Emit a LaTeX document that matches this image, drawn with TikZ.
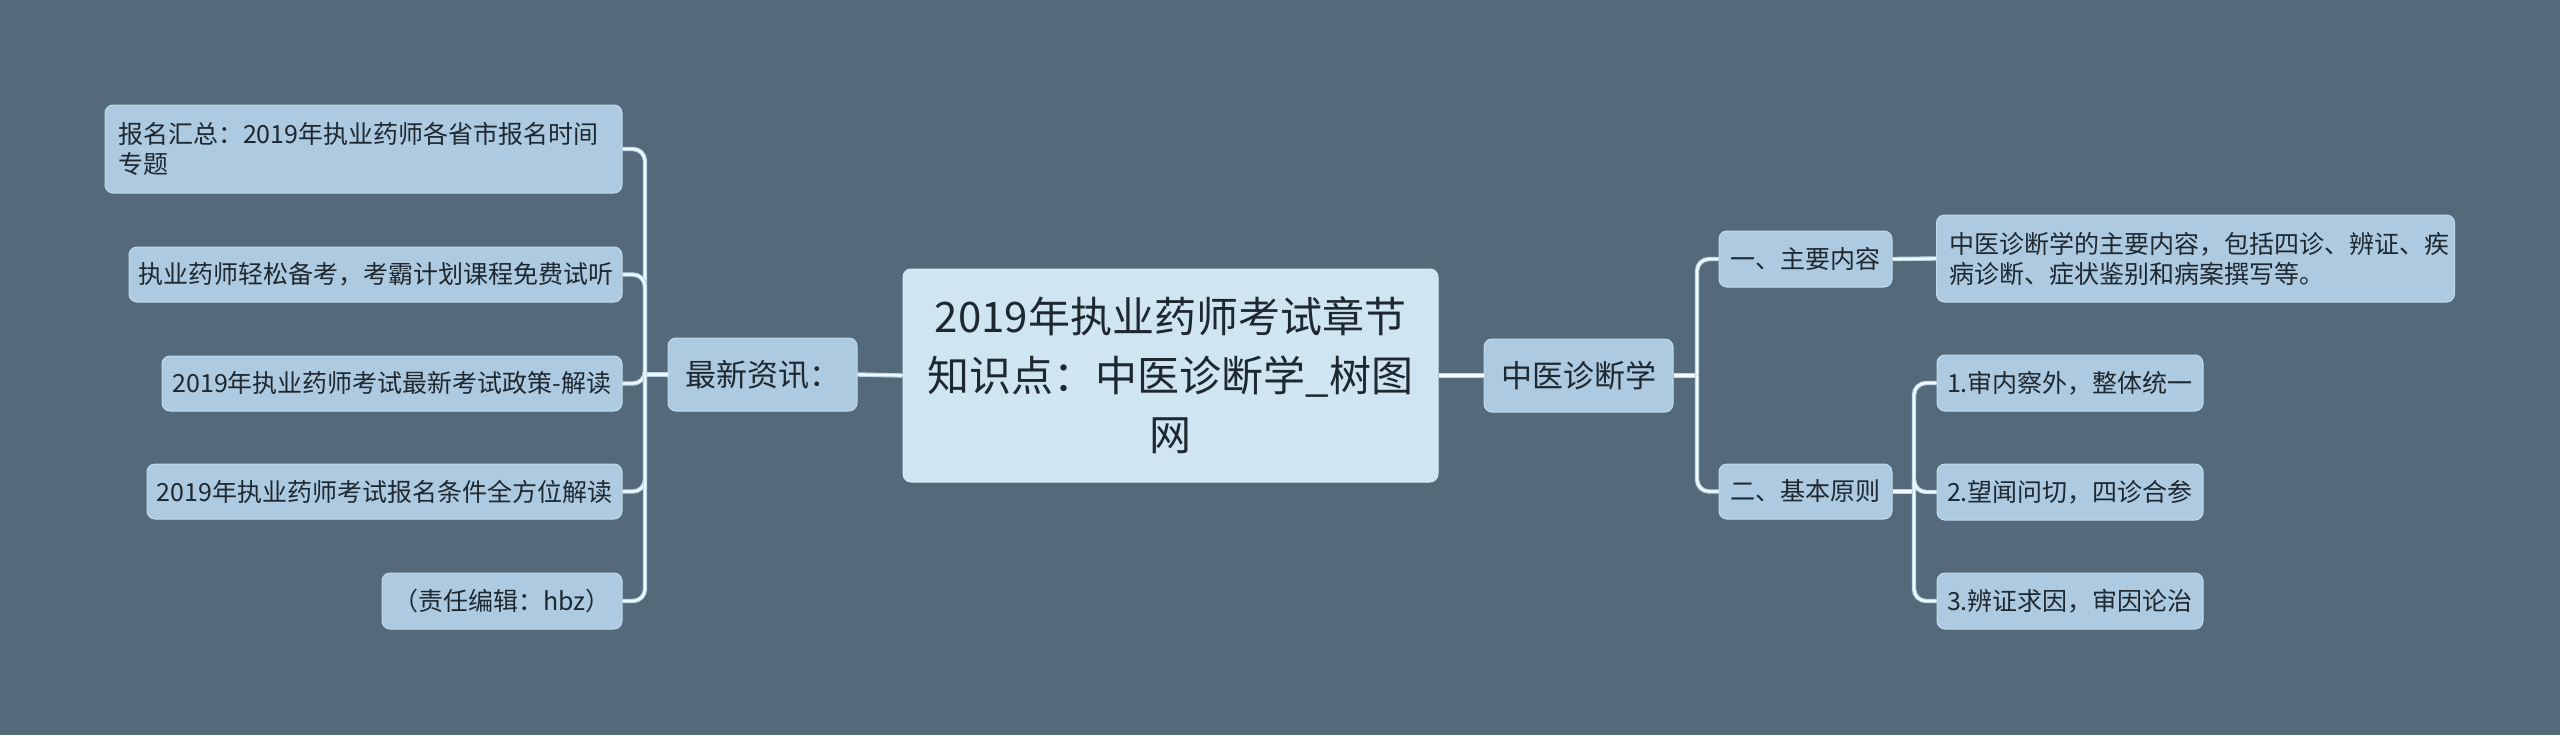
\documentclass[tikz,border=0pt]{standalone}
\usepackage{fontspec}
\setmainfont{Noto Sans CJK SC}
\definecolor{bgc}{HTML}{546A7B}
\definecolor{nodefill}{HTML}{ADCAE0}
\definecolor{nodeedge}{HTML}{C2DBEC}
\definecolor{rootfill}{HTML}{CFE5F2}
\definecolor{textc}{HTML}{1E2830}
\definecolor{lineout}{HTML}{B4D8EA}
\definecolor{linein}{HTML}{F2FAFD}
\tikzset{
  box/.style={rounded corners=4pt, fill=nodefill, draw=nodeedge, line width=0.5pt,
    text=textc, inner sep=0pt, align=center,
    font=\fontsize{12.5pt}{15pt}\selectfont},
  leftbox/.style={box, align=left, inner xsep=6.5pt},
  midbox/.style={box, font=\fontsize{15.5pt}{19pt}\selectfont},
  rootbox/.style={box, fill=rootfill, draw=rootfill!80!white,
    font=\fontsize{21pt}{29.5pt}\selectfont},
  conn/.style={draw=lineout, line width=2.2pt, rounded corners=6pt,
    postaction={draw=linein, line width=1.1pt}},
}
\begin{document}
\begin{tikzpicture}[x=0.5pt,y=-0.5pt]
\fill[bgc] (0,0) rectangle (2560,735);
\useasboundingbox (0,0) rectangle (2560,735);

% root
\node[rootbox, minimum width=267.5pt, minimum height=106.5pt] (root) at (1170.5,375.5)
  {2019年执业药师考试章节\\知识点：中医诊断学\_树图\\网};

% left side
\node[midbox, minimum width=94.5pt, minimum height=36.5pt] (news) at (762.5,374.5) {最新资讯：};
\node[leftbox, text width=245.5pt, minimum height=44pt] (n1) at (363.5,149)
  {报名汇总：2019年执业药师各省市报名时间\\专题};
\node[box, minimum width=246.5pt, minimum height=27.5pt] (n2) at (375.5,274.5)
  {执业药师轻松备考，考霸计划课程免费试听};
\node[box, minimum width=230pt, minimum height=27.5pt] (n3) at (392,383.5)
  {2019年执业药师考试最新考试政策-解读};
\node[box, minimum width=237.5pt, minimum height=27.5pt] (n4) at (384.5,491.5)
  {2019年执业药师考试报名条件全方位解读};
\node[box, minimum width=120pt, minimum height=28pt] (n5) at (502,601)
  {（责任编辑：hbz）};

% right side
\node[midbox, minimum width=94.5pt, minimum height=36.5pt] (zy) at (1578.5,375.5) {中医诊断学};
\node[box, minimum width=86.5pt, minimum height=28pt] (one) at (1805.5,259) {一、主要内容};
\node[box, minimum width=86.5pt, minimum height=27.5pt] (two) at (1805.5,491.5) {二、基本原则};
\node[leftbox, text width=246pt, minimum height=43.5pt] (desc) at (2195.5,258.5)
  {中医诊断学的主要内容，包括四诊、辨证、疾\\病诊断、症状鉴别和病案撰写等。};
\node[box, minimum width=133pt, minimum height=28pt] (p1) at (2070,383) {1.审内察外，整体统一};
\node[box, minimum width=133pt, minimum height=28pt] (p2) at (2070,492) {2.望闻问切，四诊合参};
\node[box, minimum width=133pt, minimum height=28pt] (p3) at (2070,601) {3.辨证求因，审因论治};

% junctions
\coordinate (jl) at (645,374.5);
\coordinate (jr) at (1697,375.5);
\coordinate (jr2) at (1914,491.5);

% connectors
\draw[conn] (root.west) -- (news.east);
\draw[conn] (root.east) -- (zy.east -| zy.west);
\draw[conn] (news.west) -- (jl);
\foreach \c in {n1,n2,n3,n4,n5} { \draw[conn] (jl) |- (\c.east); }
\draw[conn] (zy.east) -- (jr);
\draw[conn] (jr) |- (one.west);
\draw[conn] (jr) |- (two.west);
\draw[conn] (one.east) -- (desc.west);
\draw[conn] (two.east) -- (jr2);
\foreach \c in {p1,p2,p3} { \draw[conn] (jr2) |- (\c.west); }
\end{tikzpicture}
\end{document}
